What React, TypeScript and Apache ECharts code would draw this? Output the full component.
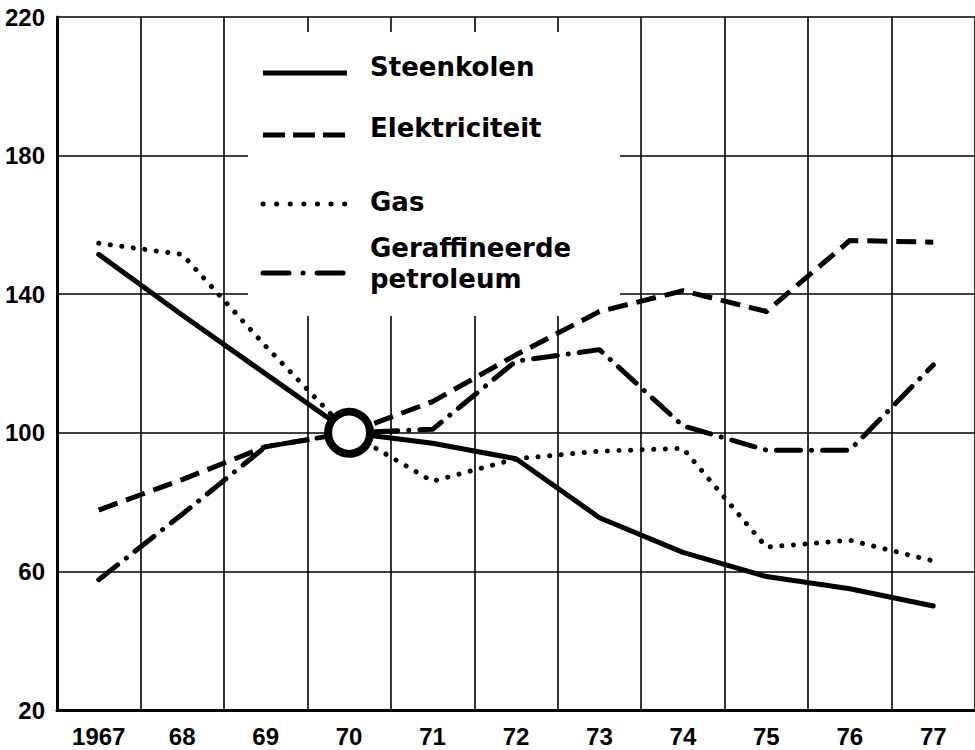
import React, { useEffect, useRef } from 'react';
import * as echarts from 'echarts';

// ---- data ----
const years = ['1967', '68', '69', '70', '71', '72', '73', '74', '75', '76', '77'];
const steenkolen = [151.5, 134, 117, 100, 97, 92.5, 75.5, 65.5, 58.5, 55, 50];
const elektriciteit = [77.7, 86.5, 96, 100, 109, 122.5, 135, 141, 135, 155.5, 155];
const gas = [154.7, 151.5, 125, 100, 86, 92.5, 94.7, 95.5, 67, 69, 63];
const petroleum = [57.6, 76.5, 96, 100, 101, 120.7, 124, 102, 95, 95, 119.6];
const seriesNames = ['Steenkolen', 'Elektriciteit', 'Gas', 'Geraffineerde\npetroleum'];
const yMin = 20;
const yMax = 220;
const yStep = 40;
const baseYear = '70';
const baseValue = 100;

const labelFont = "'Liberation Sans', Arial, sans-serif";
const legendFont = "'DejaVu Sans', 'Liberation Sans', sans-serif";

export default function App() {
  const ref = useRef<HTMLDivElement>(null);

  useEffect(() => {
    if (!ref.current) return;
    const chart = echarts.init(ref.current, null, { renderer: 'svg' });

    const lw = 5;
    const lineStyles: any[] = [
      { color: '#000', width: lw, type: 'solid', cap: 'round', join: 'round' },
      { color: '#000', width: lw, type: [20, 9], cap: 'butt', join: 'round' },
      { color: '#000', width: lw, type: [0.1, 11.5], cap: 'round', join: 'round' },
      { color: '#000', width: lw, type: [24, 11, 0.1, 11], cap: 'round', join: 'round' },
    ];
    const dataSets = [steenkolen, elektriciteit, gas, petroleum];

    const lineSeries = dataSets.map((d, i) => ({
      name: seriesNames[i],
      type: 'line',
      data: d,
      symbol: 'none',
      smooth: false,
      lineStyle: lineStyles[i],
      z: 3,
      silent: true,
    }));

    // legend (drawn as graphics inside white box)
    const legendX1 = 263;
    const legendX2 = 347;
    const textX = 370;
    const sampleY = [73, 135, 204, 273];
    const textY = [67, 128, 202, 263];
    const legendDash: any[] = [null, [22, 8], [0.1, 13.5], [26, 14, 0.1, 14]];
    const legendCap = ['butt', 'butt', 'round', 'round'];

    const legendGraphics: any[] = [];
    seriesNames.forEach((name, i) => {
      legendGraphics.push({
        type: 'line',
        shape: { x1: legendX1, y1: sampleY[i], x2: legendX2, y2: sampleY[i] },
        style: {
          stroke: '#000',
          lineWidth: lw,
          lineDash: legendDash[i],
          lineCap: legendCap[i],
        },
        z: 10,
      });
      legendGraphics.push({
        type: 'text',
        x: textX,
        y: textY[i],
        style: {
          text: name,
          fill: '#000',
          fontFamily: legendFont,
          fontWeight: 'bold',
          fontSize: 26,
          lineHeight: 31,
          align: 'left',
          verticalAlign: 'middle',
        },
        z: 10,
      });
    });

    chart.setOption({
      animation: false,
      backgroundColor: '#fff',
      grid: { left: 57, right: -1, top: 17, bottom: 40, containLabel: false },
      xAxis: {
        type: 'category',
        data: years,
        boundaryGap: true,
        axisLine: { show: true, lineStyle: { color: '#000', width: 3 } },
        axisTick: { show: false },
        axisLabel: {
          interval: 0,
          margin: 14,
          color: '#000',
          fontFamily: labelFont,
          fontWeight: 'bold',
          fontSize: 24,
        },
        splitLine: { show: true, interval: 0, lineStyle: { color: '#000', width: 1.6 } },
      },
      yAxis: {
        type: 'value',
        min: yMin,
        max: yMax,
        interval: yStep,
        axisLine: { show: true, lineStyle: { color: '#000', width: 3 } },
        axisTick: { show: false },
        axisLabel: {
          margin: 12,
          color: '#000',
          fontFamily: labelFont,
          fontWeight: 'bold',
          fontSize: 24,
        },
        splitLine: { show: true, lineStyle: { color: '#000', width: 1.6 } },
      },
      graphic: [
        {
          type: 'rect',
          shape: { x: 248, y: 32, width: 372, height: 284 },
          style: { fill: '#fff' },
          z: 1,
          silent: true,
        },
        ...legendGraphics,
      ],
      series: [
        ...lineSeries,
        {
          type: 'scatter',
          name: 'basis',
          data: [[baseYear, baseValue]],
          symbol: 'circle',
          symbolSize: 42,
          itemStyle: { color: '#fff', borderColor: '#000', borderWidth: 8, opacity: 1 },
          z: 5,
          silent: true,
        },
      ],
    });

    return () => {
      chart.dispose();
    };
  }, []);

  return (
    <div
      ref={ref}
      style={{ position: 'fixed', left: 0, top: 0, width: 975, height: 750, background: '#fff' }}
    />
  );
}
